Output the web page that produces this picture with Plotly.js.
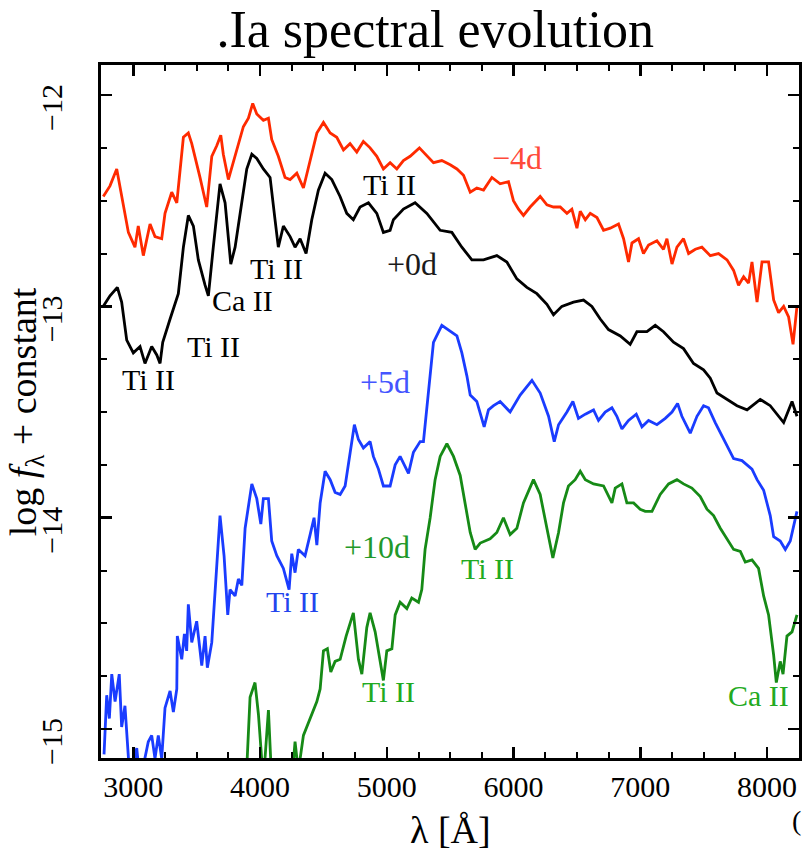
<!DOCTYPE html>
<html>
<head>
<meta charset="utf-8">
<script src="https://cdn.plot.ly/plotly-3.0.1.min.js"></script>
<style>html,body{margin:0;padding:0;background:#fff;}#chart{width:803px;height:856px;}</style>
</head>
<body>
<div id="chart"></div>
<script>
// Wavelength grids (Å) and log flux values
const wlMinus4 = [2763,2816,2869,2921,2961,3013,3039,3079,3132,3171,3224,3250,3303,3343,3395,3434,3461,3526,3579,3619,3658,3690,3710,3750,3803,3868,3908,3942,3974,4026,4066,4092,4144,4197,4237,4290,4342,4395,4448,4500,
  4553,4605,4658,4710,4763,4815,4868,4921,4973,5026,5079,5131,5184,5257,5316,5368,5434,5500,5553,5605,5658,5710,5763,5829,5894,5960,5999,6039,6078,6131,6210,6263,6315,
  6368,6421,6460,6500,6526,6566,6605,6658,6710,6763,6828,6868,6907,6934,6986,7025,7065,7131,7183,7210,7250,7289,7341,7381,7434,7486,7552,7617,7684,7736,7775,7815,7854,7881,7921,7960,8012,8052,8091,8131,8170,8205,8236];
const fMinus4 = [-12.48,-12.43,-12.35,-12.53,-12.65,-12.72,-12.62,-12.76,-12.61,-12.67,-12.68,-12.56,-12.46,-12.51,-12.20,-12.18,-12.23,-12.39,-12.53,-12.29,-12.24,-12.19,-12.28,-12.40,-12.29,-12.15,-12.11,-12.04,-12.09,-12.12,-12.11,-12.21,-12.29,-12.39,-12.40,-12.37,-12.44,-12.31,-12.18,-12.13,
  -12.18,-12.20,-12.26,-12.23,-12.27,-12.22,-12.25,-12.29,-12.35,-12.32,-12.35,-12.31,-12.29,-12.25,-12.29,-12.32,-12.31,-12.33,-12.35,-12.38,-12.46,-12.44,-12.45,-12.39,-12.42,-12.41,-12.50,-12.54,-12.57,-12.53,-12.48,-12.52,-12.53,
  -12.53,-12.56,-12.54,-12.63,-12.55,-12.59,-12.56,-12.58,-12.64,-12.63,-12.61,-12.68,-12.79,-12.70,-12.68,-12.75,-12.71,-12.69,-12.73,-12.68,-12.80,-12.72,-12.68,-12.75,-12.73,-12.72,-12.76,-12.75,-12.78,-12.83,-12.90,-12.86,-12.89,-12.79,-12.98,-12.79,-12.79,-12.97,-13.03,-13.00,-13.05,-13.18,-13.00];

const wlPlus0 = [2763,2816,2874,2908,2948,3000,3053,3092,3145,3185,3211,3232,3290,3355,3395,3434,3474,3513,3566,3592,3631,3684,3724,3769,3803,3856,3895,3935,3974,4026,4079,4118,4144,4184,4237,4276,4316,4363,4408,4460,4513,4566,4631,4684,4736,4789,4855,4921,4973,5026,5052,5131,5223,5316,5421,5513,5592,5671,5763,5868,5947,6026,6105,6184,6263,6315,6381,6473,6552,6618,6684,6749,6842,6920,6973,7052,7118,7183,7262,7341,7420,7499,7552,7605,7684,7763,7842,7946,8025,8131,8197,8236];
const fPlus0 = [-13.00,-12.95,-12.91,-12.98,-13.16,-13.22,-13.19,-13.27,-13.19,-13.23,-13.27,-13.17,-13.06,-12.94,-12.72,-12.57,-12.62,-12.78,-12.90,-12.95,-12.72,-12.42,-12.51,-12.80,-12.72,-12.50,-12.35,-12.28,-12.30,-12.35,-12.39,-12.59,-12.72,-12.62,-12.67,-12.72,-12.68,-12.75,-12.59,-12.45,-12.37,-12.40,-12.48,-12.56,-12.59,-12.53,-12.51,-12.56,-12.65,-12.64,-12.59,-12.54,-12.51,-12.56,-12.64,-12.65,-12.72,-12.78,-12.78,-12.76,-12.79,-12.87,-12.91,-12.94,-12.99,-13.04,-13.00,-12.98,-12.97,-13.00,-13.06,-13.11,-13.14,-13.18,-13.12,-13.12,-13.09,-13.12,-13.17,-13.20,-13.27,-13.30,-13.34,-13.41,-13.44,-13.47,-13.49,-13.44,-13.47,-13.55,-13.45,-13.52];

const wlPlus5 = [2769,2790,2811,2830,2856,2889,2908,2934,2974,3027,3053,3118,3145,3171,3197,3224,3250,3290,3316,3343,3347,3382,3403,3421,3434,3461,3500,3540,3566,3584,3619,3658,3684,3716,3745,3763,3803,3829,3856,3882,3935,3974,4006,4026,4066,4092,4132,4184,4229,4250,4276,4302,4355,4395,4426,4448,4474,4513,4553,4592,4632,4671,4710,4744,4776,4815,4868,4894,4934,4973,5026,5066,5105,5171,5210,5263,5289,5328,5368,5434,5500,5553,5592,5632,5658,5710,5768,5802,5842,5894,5973,6052,6145,6210,6276,6321,6355,
  6421,6468,6512,6566,6631,6670,6723,6776,6815,6855,6907,6968,7013,7065,7131,7197,7250,7294,7328,7394,7447,7499,7538,7591,7657,7736,7802,7881,7921,7973,8025,8052,8104,8144,8183,8236];
const fPlus5 = [-15.12,-14.84,-14.95,-14.74,-14.87,-14.74,-14.99,-14.89,-15.25,-15.09,-15.25,-15.06,-15.03,-15.14,-15.03,-15.14,-14.90,-14.82,-14.92,-14.81,-14.56,-14.67,-14.55,-14.63,-14.41,-14.59,-14.49,-14.70,-14.56,-14.71,-14.59,-14.24,-13.99,-14.18,-14.46,-14.34,-14.37,-14.29,-14.32,-14.05,-13.84,-13.91,-14.03,-13.91,-13.91,-14.11,-14.18,-14.24,-14.34,-14.17,-14.26,-14.15,-14.18,-14.08,-14.00,-14.13,-13.93,-13.78,-13.82,-13.88,-13.89,-13.85,-13.69,-13.56,-13.63,-13.67,-13.64,-13.71,-13.77,-13.85,-13.85,-13.75,-13.71,-13.79,-13.69,-13.64,-13.64,-13.39,-13.17,-13.09,-13.12,-13.14,-13.22,-13.33,-13.42,-13.45,-13.57,-13.49,-13.47,-13.45,-13.50,-13.42,-13.35,-13.41,-13.52,-13.64,-13.56,
  -13.50,-13.45,-13.53,-13.51,-13.49,-13.54,-13.50,-13.48,-13.52,-13.58,-13.54,-13.51,-13.57,-13.54,-13.56,-13.53,-13.50,-13.46,-13.52,-13.60,-13.52,-13.47,-13.48,-13.55,-13.63,-13.72,-13.73,-13.77,-13.82,-13.87,-13.99,-14.09,-14.11,-14.15,-14.11,-13.97];

const wlPlus10 = [3890,3921,3960,3987,4026,4066,4092,4250,4276,4302,4342,4395,4448,4474,4500,4531,4558,4592,4632,4679,4736,4776,4803,4842,4868,4908,4947,4973,5000,5040,5066,5105,5158,5197,5250,5276,5302,5342,5381,5421,5474,5526,5579,5618,5658,5697,5737,5815,5868,5920,5973,6026,6078,6157,6210,6263,6310,6355,
  6394,6433,6486,6526,6566,6631,6710,6776,6802,6855,6894,6947,6999,7039,7092,7157,7223,7289,7341,7407,7473,7526,7578,7631,7684,7736,7789,7828,7881,7933,7973,8012,8052,8073,8104,8126,8157,8197,8236];
const fPlus10 = [-15.25,-14.85,-14.78,-14.93,-15.25,-14.91,-15.25,-15.25,-15.06,-15.20,-15.03,-14.95,-14.87,-14.81,-14.63,-14.62,-14.73,-14.68,-14.67,-14.56,-14.45,-14.67,-14.74,-14.52,-14.45,-14.54,-14.67,-14.77,-14.63,-14.62,-14.46,-14.40,-14.43,-14.38,-14.40,-14.34,-14.15,-14.00,-13.82,-13.71,-13.65,-13.71,-13.80,-13.93,-14.07,-14.15,-14.12,-14.10,-14.07,-14.00,-14.08,-14.05,-13.93,-13.82,-13.89,-14.05,-14.19,-14.07,
  -13.93,-13.85,-13.82,-13.78,-13.82,-13.84,-13.85,-13.93,-13.86,-13.84,-13.93,-13.93,-13.96,-13.97,-13.97,-13.89,-13.84,-13.82,-13.84,-13.86,-13.90,-13.96,-13.99,-14.05,-14.10,-14.15,-14.16,-14.21,-14.20,-14.24,-14.37,-14.46,-14.65,-14.78,-14.68,-14.74,-14.56,-14.54,-14.46];

const xTickVals = [3000,4000,5000,6000,7000,8000];
const xTickText = ['3000','4000','5000','6000','7000','8000'];
const yTickVals = [-15,-14,-13,-12];
const yTickText = ['\u221215','\u221214','\u221213','\u221212'];

const serif = 'Liberation Serif, Times New Roman, serif';
const lw = 2.8;
const traces = [
  {x: wlMinus4, y: fMinus4, mode:'lines', line:{color:'#ff2a00', width:lw}},
  {x: wlPlus0, y: fPlus0, mode:'lines', line:{color:'#000000', width:lw}},
  {x: wlPlus5, y: fPlus5, mode:'lines', line:{color:'#1a3cff', width:lw}},
  {x: wlPlus10, y: fPlus10, mode:'lines', line:{color:'#168a16', width:lw}}
];

function ann(text, x, y, color, size){
  return {text:text, x:x, y:y, xref:'x', yref:'y', showarrow:false,
          font:{family:serif, size:size||30, color:color}, xanchor:'center', yanchor:'middle'};
}
const annotations = [
  ann('\u22124d', 6029, -12.297, '#ff4a3a', 32),
  ann('+0d', 5200, -12.80, '#1a1a1a', 32),
  ann('+5d', 4985, -13.36, '#4455ff', 32),
  ann('+10d', 4922, -14.14, '#22992a', 32),
  ann('Ti II', 3117, -13.345, '#000000'),
  ann('Ti II', 3630, -13.19, '#000000'),
  ann('Ca II', 3859, -12.97, '#000000'),
  ann('Ti II', 4126, -12.82, '#000000'),
  ann('Ti II', 5019, -12.425, '#000000'),
  ann('Ti II', 4253, -14.396, '#2244ee'),
  ann('Ti II', 5792, -14.24, '#22aa22'),
  ann('Ti II', 5010, -14.82, '#22aa22'),
  ann('Ca II', 7930, -14.84, '#22aa22'),
  {text:'log <i>f</i><sub>\u03bb</sub> + constant', x:-0.1074, y:0.499, xref:'paper', yref:'paper',
   showarrow:false, textangle:-90, xanchor:'center', yanchor:'middle',
   font:{family:serif, size:38, color:'#000'}},
  {text:'\u03bb [\u00c5]', x:0.5, y:-0.104, xref:'paper', yref:'paper', showarrow:false,
   xanchor:'center', yanchor:'middle', font:{family:serif, size:38, color:'#000'}},
  {text:'(', x:1.0057, y:-0.09, xref:'paper', yref:'paper', showarrow:false, xanchor:'right', yanchor:'middle',
   font:{family:serif, size:28, color:'#000000'}}
];

const layout = {
  width: 803, height: 856,
  margin: {l:101, r:4, t:65, b:98},
  paper_bgcolor:'#fff', plot_bgcolor:'#fff',
  showlegend:false,
  title:{text:'.Ia spectral evolution', x:0.542, xanchor:'center', y:0.966, yanchor:'middle',
         font:{family:serif, size:52, color:'#000'}},
  xaxis:{range:[2745,8252], tickvals:xTickVals, ticktext:xTickText,
         ticks:'inside', ticklen:11, tickwidth:2.5, tickcolor:'#000',
         showline:true, linewidth:3, linecolor:'#000', mirror:'allticks',
         showgrid:false, zeroline:false,
         minor:{dtick:250, tick0:0, ticks:'inside', ticklen:6, tickwidth:2, tickcolor:'#000', showgrid:false},
         tickfont:{family:serif, size:30, color:'#000'}},
  yaxis:{range:[-15.137,-11.858], tickvals:yTickVals, ticktext:yTickText, tickangle:-90,
         ticks:'inside', ticklen:11, tickwidth:2.5, tickcolor:'#000',
         showline:true, linewidth:3, linecolor:'#000', mirror:'allticks',
         showgrid:false, zeroline:false, ticklabelstandoff:24, ticklabelshift:17,
         minor:{dtick:0.25, tick0:0, ticks:'inside', ticklen:6, tickwidth:2, tickcolor:'#000', showgrid:false},
         tickfont:{family:serif, size:30, color:'#000'}},
  annotations: annotations
};

Plotly.newPlot('chart', traces, layout, {displayModeBar:false, staticPlot:true});
</script>
</body>
</html>
